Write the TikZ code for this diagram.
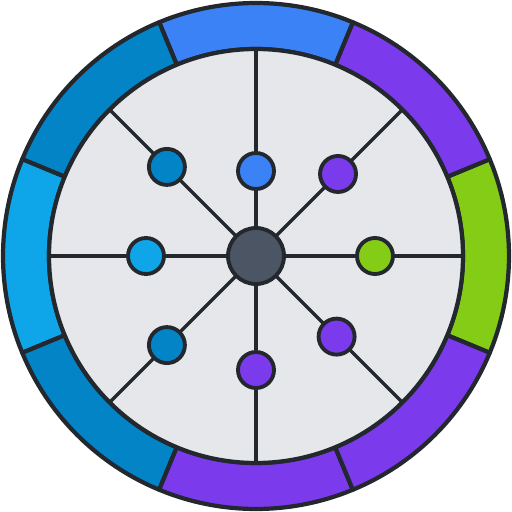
\documentclass[tikz,border=0pt]{standalone}
\definecolor{ringblue}{HTML}{3B82F6}
\definecolor{ringviolet}{HTML}{7C3AED}
\definecolor{ringlime}{HTML}{84CC16}
\definecolor{ringsky}{HTML}{0EA5E9}
\definecolor{ringocean}{HTML}{0284C7}
\definecolor{discgray}{HTML}{E5E7EB}
\definecolor{hubslate}{HTML}{4B5563}
\definecolor{inkdark}{HTML}{23272E}
\begin{document}
\begin{tikzpicture}[
  scale=0.02,
  seg/.style={draw=inkdark, line width=2.4pt, line join=round},
  spoke/.style={draw=inkdark, line width=2pt},
  dot/.style={circle, draw=inkdark, line width=2.2pt, minimum size=0.72cm, inner sep=0pt},
  hubnode/.style={circle, draw=inkdark, fill=hubslate, line width=2.2pt, minimum size=1.12cm, inner sep=0pt}
]
\useasboundingbox (-256,-256) rectangle (256,256);
% outer ring, one segment per direction
\foreach \a/\col in {0/ringlime, 45/ringviolet, 90/ringblue, 135/ringocean, 180/ringsky, 225/ringocean, 270/ringviolet, 315/ringviolet}
  \filldraw[seg, fill=\col] (\a-22.5:207) arc[start angle=\a-22.5, end angle=\a+22.5, radius=207] -- (\a+22.5:253) arc[start angle=\a+22.5, end angle=\a-22.5, radius=253] -- cycle;
% inner disc
\filldraw[seg, fill=discgray] (0,0) circle[radius=207];
\coordinate (o) at (0,0);
\foreach \a in {0,45,...,315} {
  \coordinate (rim\a) at (\a:207);
  \draw[spoke] (o) -- (rim\a);
}
\node[dot, fill=ringblue] (dn) at (90:85) {};
\node[dot, fill=ringviolet] (dne) at (45:116) {};
\node[dot, fill=ringlime] (de) at (0:119) {};
\node[dot, fill=ringviolet] (dse) at (-45:114) {};
\node[dot, fill=ringviolet] (ds) at (-90:114) {};
\node[dot, fill=ringocean] (dsw) at (-135:126) {};
\node[dot, fill=ringsky] (dw) at (180:110) {};
\node[dot, fill=ringocean] (dnw) at (135:126) {};
\node[hubnode] (hub) at (o) {};
\end{tikzpicture}
\end{document}
